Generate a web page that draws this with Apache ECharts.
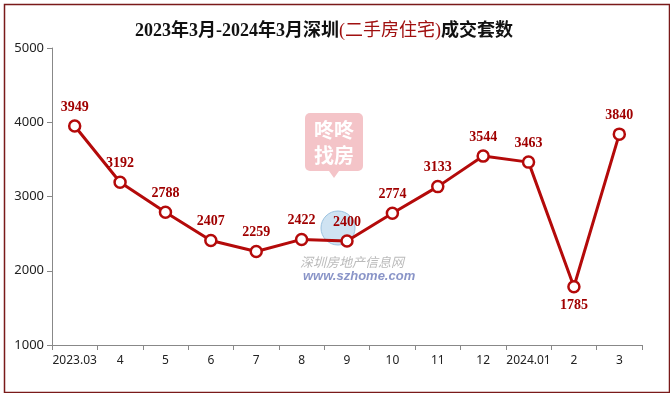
<!DOCTYPE html>
<html><head><meta charset="utf-8">
<script src="https://cdn.jsdelivr.net/npm/echarts@6/dist/echarts.min.js"></script>
<style>html,body{margin:0;padding:0;background:#fff}#c{width:670px;height:393px}</style>
</head><body><div id="c"></div>
<script>
var categories = ['2023.03','4','5','6','7','8','9','10','11','12','2024.01','2','3'];
var values = [3949,3192,2788,2407,2259,2422,2400,2774,3133,3544,3463,1785,3840];
var yTicks = [1000,2000,3000,4000,5000];
var below = [11];

var chart = echarts.init(document.getElementById('c'), null, {renderer:'canvas'});
var red = '#b40a0a';
var data = values.map(function(v,i){
  var d = {value:v};
  if (below.indexOf(i) >= 0) d.label = {position:'bottom', distance:5};
  return d;
});
chart.setOption({
  animation:false,
  backgroundColor:'#fff',
  title:{
    text:'{b|2023年3月-2024年3月深圳}{r|(二手房住宅)}{b|成交套数}',
    left:130, top:17,
    textStyle:{rich:{
      b:{fontFamily:'Liberation Serif, Noto Sans CJK SC',fontWeight:'bold',fontSize:18,color:'#111'},
      r:{fontFamily:'Liberation Serif, Noto Sans CJK SC',fontWeight:'normal',fontSize:18,color:'#a01010'}
    }}
  },
  graphic:[
    {type:'rect',left:2,top:2,shape:{width:665,height:388},style:{fill:'none',stroke:'#7a1a1a',lineWidth:1.5},z:100},
    {type:'group',left:305,top:113,z:0,children:[
      {type:'rect',shape:{x:0,y:0,width:58,height:58,r:5},style:{fill:'#f4c4c8'}},
      {type:'polygon',shape:{points:[[24,58],[34,58],[29,65]]},style:{fill:'#f4c4c8'}},
      {type:'text',style:{x:29,y:5,text:'咚咚\n找房',fill:'#fff',font:'bold 20px Noto Sans CJK SC',align:'center',lineHeight:25}}
    ]},
    {type:'circle',shape:{cx:338,cy:228,r:17},style:{fill:'#cfe3f2',stroke:'#9cc3e0',lineWidth:1},z:0},
    {type:'text',left:300,top:256,z:0,style:{text:'深圳房地产信息网',fill:'#bbbbbb',font:'italic 13px Noto Sans CJK SC'}},
    {type:'text',left:303,top:270,z:0,style:{text:'www.szhome.com',fill:'#8a95c8',font:'italic bold 13px Liberation Sans'}}
  ],
  grid:{left:52,right:28,top:48,bottom:48},
  xAxis:{
    type:'category', data:categories, boundaryGap:true,
    axisLine:{lineStyle:{color:'#888',width:1}},
    axisTick:{show:true,alignWithLabel:false,length:5,lineStyle:{color:'#888'}},
    axisLabel:{color:'#222',fontSize:12,fontFamily:'Noto Sans, DejaVu Sans',margin:10,interval:0},
    splitLine:{show:false}
  },
  yAxis:{
    type:'value', min:yTicks[0], max:yTicks[yTicks.length-1], interval:1000,
    axisLine:{show:true,lineStyle:{color:'#888',width:1}},
    axisTick:{show:true,length:5,lineStyle:{color:'#888'}},
    axisLabel:{color:'#222',fontSize:13,fontFamily:'Noto Sans, DejaVu Sans',margin:8,formatter:function(v){return String(v);}},
    splitLine:{show:false}
  },
  series:[{
    type:'line', data:data, z:5,
    symbol:'circle', symbolSize:11,
    itemStyle:{color:'#fff',borderColor:red,borderWidth:2.5},
    lineStyle:{color:red,width:3},
    label:{show:true,position:'top',distance:5,color:'#a00000',fontFamily:'Liberation Serif, DejaVu Serif',fontWeight:'bold',fontSize:14}
  }]
});
</script></body></html>
